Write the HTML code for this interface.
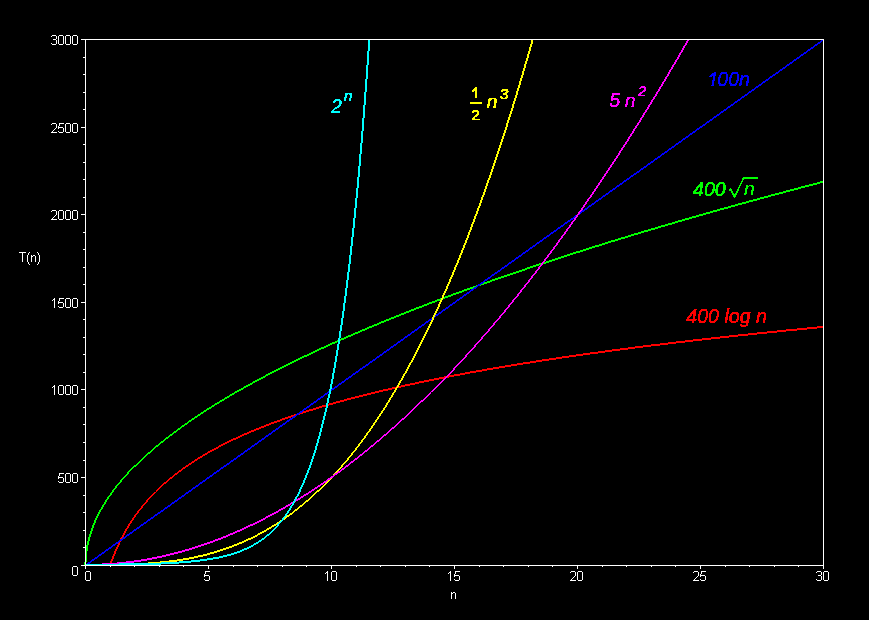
<!DOCTYPE html>
<html><head><meta charset="utf-8"><title>Growth of functions</title>
<style>
html,body{margin:0;padding:0;background:#000;}
body{width:869px;height:620px;overflow:hidden;}
svg{display:block;}
text{font-family:"Liberation Sans",sans-serif;}
</style></head><body>
<svg width="869" height="620" viewBox="0 0 869 620">
<defs>
<filter id="th" x="0" y="0" width="869" height="620" filterUnits="userSpaceOnUse" color-interpolation-filters="sRGB"><feComponentTransfer><feFuncA type="discrete" tableValues="0 1"/></feComponentTransfer></filter>
</defs>
<rect x="0" y="0" width="869" height="620" fill="#000"/>

<g shape-rendering="crispEdges">
<path fill="#ff0000" d="M817 326h7v1h-7zM807 327h17v1h-17zM797 328h20v1h-20zM786 329h21v1h-21zM777 330h20v1h-20zM767 331h19v1h-19zM757 332h20v1h-20zM748 333h19v1h-19zM738 334h19v1h-19zM729 335h19v1h-19zM720 336h18v1h-18zM711 337h18v1h-18zM702 338h18v1h-18zM693 339h18v1h-18zM685 340h17v1h-17zM676 341h17v1h-17zM668 342h17v1h-17zM660 343h16v1h-16zM651 344h17v1h-17zM643 345h17v1h-17zM635 346h16v1h-16zM628 347h15v1h-15zM620 348h15v1h-15zM612 349h16v1h-16zM605 350h15v1h-15zM598 351h14v1h-14zM590 352h15v1h-15zM583 353h15v1h-15zM576 354h14v1h-14zM569 355h14v1h-14zM562 356h14v1h-14zM556 357h13v1h-13zM549 358h13v1h-13zM542 359h14v1h-14zM536 360h13v1h-13zM530 361h12v1h-12zM523 362h13v1h-13zM517 363h13v1h-13zM511 364h12v1h-12zM505 365h12v1h-12zM499 366h12v1h-12zM493 367h12v1h-12zM487 368h12v1h-12zM482 369h11v1h-11zM476 370h11v1h-11zM470 371h12v1h-12zM465 372h11v1h-11zM460 373h10v1h-10zM454 374h11v1h-11zM449 375h11v1h-11zM444 376h2v1h-2zM448 376h6v1h-6zM439 377h6v1h-6zM447 377h2v1h-2zM434 378h10v1h-10zM429 379h10v1h-10zM424 380h10v1h-10zM419 381h10v1h-10zM415 382h9v1h-9zM410 383h9v1h-9zM405 384h10v1h-10zM401 385h9v1h-9zM396 386h1v1h-1zM399 386h6v1h-6zM392 387h4v1h-4zM398 387h3v1h-3zM388 388h7v1h-7zM383 389h9v1h-9zM379 390h9v1h-9zM375 391h8v1h-8zM371 392h8v1h-8zM367 393h8v1h-8zM363 394h8v1h-8zM359 395h8v1h-8zM355 396h8v1h-8zM351 397h8v1h-8zM347 398h8v1h-8zM344 399h7v1h-7zM340 400h7v1h-7zM336 401h8v1h-8zM333 402h7v1h-7zM329 403h7v1h-7zM328 404h5v1h-5zM322 405h4v1h-4zM328 405h1v1h-1zM319 406h7v1h-7zM316 407h6v1h-6zM313 408h6v1h-6zM309 409h7v1h-7zM306 410h7v1h-7zM303 411h6v1h-6zM302 412h4v1h-4zM300 413h3v1h-3zM294 414h2v1h-2zM299 414h1v1h-1zM291 415h4v1h-4zM288 416h5v1h-5zM285 417h6v1h-6zM282 418h6v1h-6zM280 419h5v1h-5zM277 420h5v1h-5zM274 421h6v1h-6zM271 422h6v1h-6zM269 423h5v1h-5zM266 424h5v1h-5zM264 425h5v1h-5zM261 426h5v1h-5zM259 427h5v1h-5zM256 428h5v1h-5zM254 429h5v1h-5zM251 430h5v1h-5zM249 431h5v1h-5zM247 432h4v1h-4zM244 433h5v1h-5zM242 434h5v1h-5zM240 435h4v1h-4zM238 436h4v1h-4zM236 437h4v1h-4zM233 438h5v1h-5zM231 439h5v1h-5zM229 440h4v1h-4zM227 441h4v1h-4zM225 442h4v1h-4zM223 443h4v1h-4zM221 444h4v1h-4zM219 445h4v1h-4zM218 446h3v1h-3zM216 447h3v1h-3zM214 448h4v1h-4zM212 449h4v1h-4zM210 450h4v1h-4zM208 451h4v1h-4zM207 452h3v1h-3zM205 453h3v1h-3zM203 454h4v1h-4zM202 455h3v1h-3zM200 456h3v1h-3zM198 457h4v1h-4zM197 458h3v1h-3zM195 459h3v1h-3zM194 460h3v1h-3zM192 461h3v1h-3zM191 462h3v1h-3zM189 463h3v1h-3zM188 464h3v1h-3zM186 465h3v1h-3zM185 466h3v1h-3zM183 467h3v1h-3zM182 468h3v1h-3zM181 469h2v1h-2zM179 470h3v1h-3zM178 471h3v1h-3zM177 472h2v1h-2zM175 473h3v1h-3zM174 474h3v1h-3zM173 475h2v1h-2zM172 476h2v1h-2zM170 477h3v1h-3zM169 478h3v1h-3zM168 479h2v1h-2zM167 480h2v1h-2zM166 481h2v1h-2zM164 482h3v1h-3zM163 483h3v1h-3zM162 484h2v1h-2zM161 485h2v1h-2zM160 486h2v1h-2zM159 487h2v1h-2zM158 488h2v1h-2zM157 489h2v1h-2zM156 490h2v1h-2zM156 491h1v1h-1zM154 492h2v1h-2zM153 493h2v1h-2zM152 494h2v1h-2zM151 495h2v1h-2zM150 496h2v1h-2zM149 497h2v1h-2zM148 498h2v1h-2zM147 499h2v1h-2zM146 500h2v2h-2zM145 502h2v1h-2zM144 503h2v1h-2zM143 504h2v1h-2zM142 505h2v1h-2zM141 506h2v2h-2zM140 508h2v1h-2zM139 509h2v1h-2zM138 510h2v1h-2zM137 511h2v2h-2zM136 513h2v1h-2zM135 514h2v1h-2zM134 515h2v2h-2zM133 517h2v1h-2zM132 518h2v2h-2zM131 520h2v1h-2zM130 521h2v2h-2zM129 523h2v1h-2zM128 524h2v2h-2zM127 526h2v2h-2zM126 528h2v1h-2zM125 529h2v2h-2zM124 531h2v2h-2zM123 533h2v2h-2zM122 535h2v2h-2zM121 537h2v1h-2zM120 538h2v1h-2zM120 541h1v1h-1zM119 542h1v1h-1zM118 543h2v2h-2zM117 545h2v2h-2zM116 547h2v2h-2zM115 549h2v2h-2zM114 551h2v3h-2zM113 554h2v2h-2zM112 556h2v3h-2zM111 559h2v2h-2zM110 561h2v2h-2z"/>
<path fill="#00ff00" d="M820 181h4v1h-4zM817 182h7v1h-7zM813 183h7v1h-7zM809 184h8v1h-8zM805 185h8v1h-8zM801 186h8v1h-8zM798 187h7v1h-7zM794 188h7v1h-7zM790 189h8v1h-8zM786 190h8v1h-8zM783 191h7v1h-7zM779 192h7v1h-7zM775 193h8v1h-8zM771 194h8v1h-8zM768 195h7v1h-7zM764 196h7v1h-7zM760 197h8v1h-8zM757 198h7v1h-7zM753 199h7v1h-7zM749 200h8v1h-8zM746 201h7v1h-7zM742 202h7v1h-7zM738 203h8v1h-8zM735 204h7v1h-7zM731 205h7v1h-7zM728 206h7v1h-7zM724 207h7v1h-7zM720 208h8v1h-8zM717 209h7v1h-7zM713 210h7v1h-7zM710 211h7v1h-7zM706 212h7v1h-7zM703 213h7v1h-7zM699 214h7v1h-7zM696 215h7v1h-7zM692 216h7v1h-7zM689 217h7v1h-7zM685 218h7v1h-7zM682 219h7v1h-7zM678 220h7v1h-7zM675 221h7v1h-7zM672 222h6v1h-6zM668 223h7v1h-7zM665 224h7v1h-7zM661 225h7v1h-7zM658 226h7v1h-7zM655 227h6v1h-6zM651 228h7v1h-7zM648 229h7v1h-7zM644 230h7v1h-7zM641 231h7v1h-7zM638 232h6v1h-6zM634 233h7v1h-7zM631 234h7v1h-7zM628 235h6v1h-6zM625 236h6v1h-6zM621 237h7v1h-7zM618 238h7v1h-7zM615 239h6v1h-6zM611 240h7v1h-7zM608 241h7v1h-7zM605 242h6v1h-6zM602 243h6v1h-6zM599 244h6v1h-6zM595 245h7v1h-7zM592 246h7v1h-7zM589 247h6v1h-6zM586 248h6v1h-6zM583 249h6v1h-6zM580 250h6v1h-6zM576 251h7v1h-7zM573 252h7v1h-7zM570 253h6v1h-6zM567 254h6v1h-6zM564 255h6v1h-6zM561 256h6v1h-6zM558 257h6v1h-6zM555 258h6v1h-6zM552 259h6v1h-6zM549 260h6v1h-6zM546 261h6v1h-6zM544 262h5v1h-5zM539 263h2v1h-2zM543 263h3v1h-3zM536 264h5v1h-5zM533 265h6v1h-6zM530 266h6v1h-6zM527 267h6v1h-6zM525 268h5v1h-5zM522 269h5v1h-5zM519 270h6v1h-6zM516 271h6v1h-6zM513 272h6v1h-6zM510 273h6v1h-6zM507 274h6v1h-6zM504 275h6v1h-6zM501 276h6v1h-6zM498 277h6v1h-6zM495 278h6v1h-6zM492 279h6v1h-6zM490 280h5v1h-5zM487 281h5v1h-5zM484 282h6v1h-6zM483 283h4v1h-4zM481 284h3v1h-3zM476 285h1v1h-1zM480 285h1v1h-1zM473 286h3v1h-3zM470 287h4v1h-4zM467 288h6v1h-6zM464 289h6v1h-6zM462 290h5v1h-5zM459 291h5v1h-5zM456 292h6v1h-6zM453 293h6v1h-6zM451 294h5v1h-5zM448 295h5v1h-5zM445 296h6v1h-6zM444 297h4v1h-4zM440 298h1v1h-1zM443 298h2v1h-2zM437 299h4v1h-4zM435 300h5v1h-5zM432 301h5v1h-5zM429 302h6v1h-6zM427 303h5v1h-5zM424 304h5v1h-5zM422 305h5v1h-5zM419 306h5v1h-5zM416 307h6v1h-6zM414 308h5v1h-5zM411 309h5v1h-5zM409 310h5v1h-5zM406 311h5v1h-5zM404 312h5v1h-5zM401 313h5v1h-5zM399 314h5v1h-5zM396 315h5v1h-5zM394 316h5v1h-5zM391 317h5v1h-5zM389 318h5v1h-5zM386 319h5v1h-5zM384 320h5v1h-5zM381 321h5v1h-5zM379 322h5v1h-5zM377 323h4v1h-4zM374 324h5v1h-5zM372 325h5v1h-5zM369 326h5v1h-5zM367 327h5v1h-5zM365 328h4v1h-4zM362 329h5v1h-5zM360 330h5v1h-5zM358 331h4v1h-4zM355 332h5v1h-5zM353 333h5v1h-5zM351 334h4v1h-4zM348 335h5v1h-5zM346 336h5v1h-5zM344 337h4v1h-4zM341 338h5v1h-5zM340 339h4v1h-4zM337 340h1v1h-1zM340 340h1v1h-1zM335 341h3v1h-3zM332 342h5v1h-5zM330 343h5v1h-5zM328 344h4v1h-4zM326 345h4v1h-4zM324 346h4v1h-4zM321 347h5v1h-5zM319 348h5v1h-5zM317 349h4v1h-4zM315 350h4v1h-4zM313 351h4v1h-4zM311 352h4v1h-4zM309 353h4v1h-4zM307 354h4v1h-4zM304 355h5v1h-5zM302 356h5v1h-5zM300 357h4v1h-4zM298 358h4v1h-4zM296 359h4v1h-4zM294 360h4v1h-4zM292 361h4v1h-4zM290 362h4v1h-4zM288 363h4v1h-4zM286 364h4v1h-4zM284 365h4v1h-4zM282 366h4v1h-4zM280 367h4v1h-4zM278 368h4v1h-4zM276 369h4v1h-4zM274 370h4v1h-4zM272 371h4v1h-4zM270 372h4v1h-4zM268 373h4v1h-4zM266 374h4v1h-4zM265 375h3v1h-3zM263 376h3v1h-3zM261 377h4v1h-4zM259 378h4v1h-4zM257 379h4v1h-4zM255 380h4v1h-4zM253 381h4v1h-4zM252 382h3v1h-3zM250 383h3v1h-3zM248 384h4v1h-4zM246 385h4v1h-4zM244 386h4v1h-4zM243 387h3v1h-3zM241 388h3v1h-3zM239 389h4v1h-4zM237 390h4v1h-4zM235 391h4v1h-4zM234 392h3v1h-3zM232 393h3v1h-3zM230 394h4v1h-4zM229 395h3v1h-3zM227 396h3v1h-3zM225 397h4v1h-4zM224 398h3v1h-3zM222 399h3v1h-3zM220 400h4v1h-4zM219 401h3v1h-3zM217 402h3v1h-3zM215 403h4v1h-4zM214 404h3v1h-3zM212 405h3v1h-3zM211 406h3v1h-3zM209 407h3v1h-3zM207 408h4v1h-4zM206 409h3v1h-3zM204 410h3v1h-3zM203 411h3v1h-3zM201 412h3v1h-3zM200 413h3v1h-3zM198 414h3v1h-3zM197 415h3v1h-3zM195 416h3v1h-3zM194 417h3v1h-3zM192 418h3v1h-3zM191 419h3v1h-3zM189 420h3v1h-3zM188 421h3v1h-3zM187 422h2v1h-2zM185 423h3v1h-3zM184 424h3v1h-3zM182 425h3v1h-3zM181 426h3v1h-3zM180 427h2v1h-2zM178 428h3v1h-3zM177 429h3v1h-3zM176 430h2v1h-2zM174 431h3v1h-3zM173 432h3v1h-3zM172 433h2v1h-2zM170 434h3v1h-3zM169 435h3v1h-3zM168 436h2v1h-2zM166 437h3v1h-3zM165 438h3v1h-3zM164 439h2v1h-2zM163 440h2v1h-2zM161 441h3v1h-3zM160 442h3v1h-3zM159 443h2v1h-2zM158 444h2v1h-2zM156 445h3v1h-3zM155 446h3v1h-3zM154 447h2v1h-2zM153 448h2v1h-2zM152 449h2v1h-2zM151 450h2v1h-2zM150 451h2v1h-2zM148 452h3v1h-3zM147 453h3v1h-3zM146 454h2v1h-2zM145 455h2v1h-2zM144 456h2v1h-2zM143 457h2v1h-2zM142 458h2v1h-2zM141 459h2v1h-2zM140 460h2v1h-2zM139 461h2v1h-2zM138 462h2v1h-2zM137 463h2v1h-2zM136 464h2v1h-2zM134 465h3v1h-3zM133 466h3v1h-3zM132 467h2v1h-2zM131 468h2v1h-2zM130 469h2v1h-2zM129 470h2v1h-2zM128 471h2v1h-2zM127 472h2v2h-2zM126 474h2v1h-2zM125 475h2v1h-2zM124 476h2v1h-2zM123 477h2v1h-2zM122 478h2v1h-2zM121 479h2v1h-2zM120 480h2v2h-2zM119 482h2v1h-2zM118 483h2v1h-2zM117 484h2v1h-2zM116 485h2v1h-2zM115 486h2v2h-2zM114 488h2v1h-2zM113 489h2v1h-2zM112 490h2v2h-2zM111 492h2v1h-2zM110 493h2v2h-2zM109 495h2v1h-2zM108 496h2v1h-2zM107 497h2v2h-2zM106 499h2v1h-2zM105 500h2v2h-2zM104 502h2v2h-2zM103 504h2v1h-2zM102 505h2v2h-2zM101 507h2v2h-2zM100 509h2v1h-2zM99 510h2v2h-2zM98 512h2v2h-2zM97 514h2v2h-2zM96 516h2v2h-2zM95 518h2v2h-2zM94 520h2v3h-2zM93 523h2v2h-2zM92 525h2v3h-2zM91 528h2v3h-2zM90 531h2v3h-2zM89 534h2v3h-2zM88 537h2v4h-2zM87 541h2v4h-2zM86 545h2v6h-2zM85 551h2v11h-2zM84 562h2v2h-2zM84 564h1v1h-1z"/>
<path fill="#0000ff" d="M822 39h2v1h-2zM821 40h3v1h-3zM820 41h2v1h-2zM818 42h3v1h-3zM817 43h3v1h-3zM815 44h3v1h-3zM814 45h3v1h-3zM813 46h2v1h-2zM811 47h3v1h-3zM810 48h3v1h-3zM808 49h3v1h-3zM807 50h3v1h-3zM806 51h2v1h-2zM804 52h3v1h-3zM803 53h3v1h-3zM801 54h3v1h-3zM800 55h3v1h-3zM799 56h2v1h-2zM797 57h3v1h-3zM796 58h3v1h-3zM794 59h3v1h-3zM793 60h3v1h-3zM792 61h2v1h-2zM790 62h3v1h-3zM789 63h3v1h-3zM787 64h3v1h-3zM786 65h3v1h-3zM785 66h2v1h-2zM783 67h3v1h-3zM782 68h3v1h-3zM780 69h3v1h-3zM779 70h3v1h-3zM778 71h2v1h-2zM776 72h3v1h-3zM775 73h3v1h-3zM773 74h3v1h-3zM772 75h3v1h-3zM770 76h3v1h-3zM769 77h3v1h-3zM768 78h2v1h-2zM766 79h3v1h-3zM765 80h3v1h-3zM763 81h3v1h-3zM762 82h3v1h-3zM761 83h2v1h-2zM759 84h3v1h-3zM758 85h3v1h-3zM756 86h3v1h-3zM755 87h3v1h-3zM754 88h2v1h-2zM752 89h3v1h-3zM751 90h3v1h-3zM749 91h3v1h-3zM748 92h3v1h-3zM747 93h2v1h-2zM745 94h3v1h-3zM744 95h3v1h-3zM742 96h3v1h-3zM741 97h3v1h-3zM740 98h2v1h-2zM738 99h3v1h-3zM737 100h3v1h-3zM735 101h3v1h-3zM734 102h3v1h-3zM733 103h2v1h-2zM731 104h3v1h-3zM730 105h3v1h-3zM728 106h3v1h-3zM727 107h3v1h-3zM726 108h2v1h-2zM724 109h3v1h-3zM723 110h3v1h-3zM721 111h3v1h-3zM720 112h3v1h-3zM719 113h2v1h-2zM717 114h3v1h-3zM716 115h3v1h-3zM714 116h3v1h-3zM713 117h3v1h-3zM712 118h2v1h-2zM710 119h3v1h-3zM709 120h3v1h-3zM707 121h3v1h-3zM706 122h3v1h-3zM705 123h2v1h-2zM703 124h3v1h-3zM702 125h3v1h-3zM700 126h3v1h-3zM699 127h3v1h-3zM697 128h3v1h-3zM696 129h3v1h-3zM695 130h2v1h-2zM693 131h3v1h-3zM692 132h3v1h-3zM690 133h3v1h-3zM689 134h3v1h-3zM688 135h2v1h-2zM686 136h3v1h-3zM685 137h3v1h-3zM683 138h3v1h-3zM682 139h3v1h-3zM681 140h2v1h-2zM679 141h3v1h-3zM678 142h3v1h-3zM676 143h3v1h-3zM675 144h3v1h-3zM674 145h2v1h-2zM672 146h3v1h-3zM671 147h3v1h-3zM669 148h3v1h-3zM668 149h3v1h-3zM667 150h2v1h-2zM665 151h3v1h-3zM664 152h3v1h-3zM662 153h3v1h-3zM661 154h3v1h-3zM660 155h2v1h-2zM658 156h3v1h-3zM657 157h3v1h-3zM655 158h3v1h-3zM654 159h3v1h-3zM653 160h2v1h-2zM651 161h3v1h-3zM650 162h3v1h-3zM648 163h3v1h-3zM647 164h3v1h-3zM646 165h2v1h-2zM644 166h3v1h-3zM643 167h3v1h-3zM641 168h3v1h-3zM640 169h3v1h-3zM639 170h2v1h-2zM637 171h3v1h-3zM636 172h3v1h-3zM634 173h3v1h-3zM633 174h3v1h-3zM631 175h3v1h-3zM630 176h3v1h-3zM629 177h2v1h-2zM627 178h3v1h-3zM626 179h3v1h-3zM624 180h3v1h-3zM623 181h3v1h-3zM622 182h2v1h-2zM620 183h3v1h-3zM619 184h3v1h-3zM617 185h3v1h-3zM616 186h3v1h-3zM615 187h2v1h-2zM613 188h3v1h-3zM612 189h3v1h-3zM610 190h3v1h-3zM609 191h3v1h-3zM608 192h2v1h-2zM606 193h3v1h-3zM605 194h3v1h-3zM603 195h3v1h-3zM602 196h3v1h-3zM601 197h2v1h-2zM599 198h3v1h-3zM598 199h3v1h-3zM596 200h3v1h-3zM595 201h3v1h-3zM594 202h2v1h-2zM592 203h3v1h-3zM591 204h3v1h-3zM589 205h3v1h-3zM588 206h3v1h-3zM587 207h2v1h-2zM585 208h3v1h-3zM584 209h3v1h-3zM582 210h3v1h-3zM581 211h3v1h-3zM580 212h2v1h-2zM580 213h1v1h-1zM579 214h1v1h-1zM575 215h1v1h-1zM574 216h2v1h-2zM573 217h2v1h-2zM571 218h3v1h-3zM570 219h3v1h-3zM568 220h3v1h-3zM567 221h3v1h-3zM565 222h3v1h-3zM564 223h3v1h-3zM563 224h2v1h-2zM561 225h3v1h-3zM560 226h3v1h-3zM558 227h3v1h-3zM557 228h3v1h-3zM556 229h2v1h-2zM554 230h3v1h-3zM553 231h3v1h-3zM551 232h3v1h-3zM550 233h3v1h-3zM549 234h2v1h-2zM547 235h3v1h-3zM546 236h3v1h-3zM544 237h3v1h-3zM543 238h3v1h-3zM542 239h2v1h-2zM540 240h3v1h-3zM539 241h3v1h-3zM537 242h3v1h-3zM536 243h3v1h-3zM535 244h2v1h-2zM533 245h3v1h-3zM532 246h3v1h-3zM530 247h3v1h-3zM529 248h3v1h-3zM528 249h2v1h-2zM526 250h3v1h-3zM525 251h3v1h-3zM523 252h3v1h-3zM522 253h3v1h-3zM521 254h2v1h-2zM519 255h3v1h-3zM518 256h3v1h-3zM516 257h3v1h-3zM515 258h3v1h-3zM514 259h2v1h-2zM512 260h3v1h-3zM511 261h3v1h-3zM509 262h3v1h-3zM508 263h3v1h-3zM507 264h2v1h-2zM505 265h3v1h-3zM504 266h3v1h-3zM502 267h3v1h-3zM501 268h3v1h-3zM500 269h2v1h-2zM498 270h3v1h-3zM497 271h3v1h-3zM495 272h3v1h-3zM494 273h3v1h-3zM492 274h3v1h-3zM491 275h3v1h-3zM490 276h2v1h-2zM488 277h3v1h-3zM487 278h3v1h-3zM485 279h3v1h-3zM484 280h3v1h-3zM483 281h2v1h-2zM481 282h3v1h-3zM480 283h3v1h-3zM478 284h3v1h-3zM477 285h3v1h-3zM476 286h2v1h-2zM474 287h3v1h-3zM473 288h3v1h-3zM471 289h3v1h-3zM470 290h3v1h-3zM469 291h2v1h-2zM467 292h3v1h-3zM466 293h3v1h-3zM464 294h3v1h-3zM463 295h3v1h-3zM462 296h2v1h-2zM460 297h3v1h-3zM459 298h3v1h-3zM457 299h3v1h-3zM456 300h3v1h-3zM455 301h2v1h-2zM453 302h3v1h-3zM452 303h3v1h-3zM450 304h3v1h-3zM449 305h3v1h-3zM448 306h2v1h-2zM446 307h3v1h-3zM445 308h3v1h-3zM443 309h3v1h-3zM442 310h3v1h-3zM441 311h2v1h-2zM439 312h3v1h-3zM438 313h3v1h-3zM436 314h3v1h-3zM435 315h3v1h-3zM435 316h1v1h-1zM434 317h1v1h-1zM431 318h1v1h-1zM429 319h3v1h-3zM428 320h3v1h-3zM426 321h3v1h-3zM425 322h3v1h-3zM424 323h2v1h-2zM422 324h3v1h-3zM421 325h3v1h-3zM419 326h3v1h-3zM418 327h3v1h-3zM417 328h2v1h-2zM415 329h3v1h-3zM414 330h3v1h-3zM412 331h3v1h-3zM411 332h3v1h-3zM410 333h2v1h-2zM408 334h3v1h-3zM407 335h3v1h-3zM405 336h3v1h-3zM404 337h3v1h-3zM403 338h2v1h-2zM401 339h3v1h-3zM400 340h3v1h-3zM398 341h3v1h-3zM397 342h3v1h-3zM396 343h2v1h-2zM394 344h3v1h-3zM393 345h3v1h-3zM391 346h3v1h-3zM390 347h3v1h-3zM389 348h2v1h-2zM387 349h3v1h-3zM386 350h3v1h-3zM384 351h3v1h-3zM383 352h3v1h-3zM382 353h2v1h-2zM380 354h3v1h-3zM379 355h3v1h-3zM377 356h3v1h-3zM376 357h3v1h-3zM375 358h2v1h-2zM373 359h3v1h-3zM372 360h3v1h-3zM370 361h3v1h-3zM369 362h3v1h-3zM368 363h2v1h-2zM366 364h3v1h-3zM365 365h3v1h-3zM363 366h3v1h-3zM362 367h3v1h-3zM360 368h3v1h-3zM359 369h3v1h-3zM358 370h2v1h-2zM356 371h3v1h-3zM355 372h3v1h-3zM353 373h3v1h-3zM352 374h3v1h-3zM351 375h2v1h-2zM349 376h3v1h-3zM348 377h3v1h-3zM346 378h3v1h-3zM345 379h3v1h-3zM344 380h2v1h-2zM342 381h3v1h-3zM341 382h3v1h-3zM339 383h3v1h-3zM338 384h3v1h-3zM337 385h2v1h-2zM335 386h3v1h-3zM334 387h3v1h-3zM332 388h3v1h-3zM331 389h3v1h-3zM331 390h1v1h-1zM328 391h1v1h-1zM327 392h2v1h-2zM325 393h3v1h-3zM324 394h3v1h-3zM323 395h2v1h-2zM321 396h3v1h-3zM320 397h3v1h-3zM318 398h3v1h-3zM317 399h3v1h-3zM316 400h2v1h-2zM314 401h3v1h-3zM313 402h3v1h-3zM311 403h3v1h-3zM310 404h3v1h-3zM309 405h2v1h-2zM307 406h3v1h-3zM306 407h3v1h-3zM304 408h3v1h-3zM303 409h3v1h-3zM302 410h2v1h-2zM300 411h3v1h-3zM299 412h3v1h-3zM297 413h3v1h-3zM296 414h3v1h-3zM295 415h2v1h-2zM293 416h3v1h-3zM292 417h3v1h-3zM290 418h3v1h-3zM289 419h3v1h-3zM287 420h3v1h-3zM286 421h3v1h-3zM285 422h2v1h-2zM283 423h3v1h-3zM282 424h3v1h-3zM280 425h3v1h-3zM279 426h3v1h-3zM278 427h2v1h-2zM276 428h3v1h-3zM275 429h3v1h-3zM273 430h3v1h-3zM272 431h3v1h-3zM271 432h2v1h-2zM269 433h3v1h-3zM268 434h3v1h-3zM266 435h3v1h-3zM265 436h3v1h-3zM264 437h2v1h-2zM262 438h3v1h-3zM261 439h3v1h-3zM259 440h3v1h-3zM258 441h3v1h-3zM257 442h2v1h-2zM255 443h3v1h-3zM254 444h3v1h-3zM252 445h3v1h-3zM251 446h3v1h-3zM250 447h2v1h-2zM248 448h3v1h-3zM247 449h3v1h-3zM245 450h3v1h-3zM244 451h3v1h-3zM243 452h2v1h-2zM241 453h3v1h-3zM240 454h3v1h-3zM238 455h3v1h-3zM237 456h3v1h-3zM236 457h2v1h-2zM234 458h3v1h-3zM233 459h3v1h-3zM231 460h3v1h-3zM230 461h3v1h-3zM229 462h2v1h-2zM227 463h3v1h-3zM226 464h3v1h-3zM224 465h3v1h-3zM223 466h3v1h-3zM221 467h3v1h-3zM220 468h3v1h-3zM219 469h2v1h-2zM217 470h3v1h-3zM216 471h3v1h-3zM214 472h3v1h-3zM213 473h3v1h-3zM212 474h2v1h-2zM210 475h3v1h-3zM209 476h3v1h-3zM207 477h3v1h-3zM206 478h3v1h-3zM205 479h2v1h-2zM203 480h3v1h-3zM202 481h3v1h-3zM200 482h3v1h-3zM199 483h3v1h-3zM198 484h2v1h-2zM196 485h3v1h-3zM195 486h3v1h-3zM193 487h3v1h-3zM192 488h3v1h-3zM191 489h2v1h-2zM189 490h3v1h-3zM188 491h3v1h-3zM186 492h3v1h-3zM185 493h3v1h-3zM184 494h2v1h-2zM182 495h3v1h-3zM181 496h3v1h-3zM179 497h3v1h-3zM178 498h3v1h-3zM177 499h2v1h-2zM175 500h3v1h-3zM174 501h3v1h-3zM172 502h3v1h-3zM171 503h3v1h-3zM170 504h2v1h-2zM168 505h3v1h-3zM167 506h3v1h-3zM165 507h3v1h-3zM164 508h3v1h-3zM163 509h2v1h-2zM161 510h3v1h-3zM160 511h3v1h-3zM158 512h3v1h-3zM157 513h3v1h-3zM155 514h3v1h-3zM154 515h3v1h-3zM153 516h2v1h-2zM151 517h3v1h-3zM150 518h3v1h-3zM148 519h3v1h-3zM147 520h3v1h-3zM146 521h2v1h-2zM144 522h3v1h-3zM143 523h3v1h-3zM141 524h3v1h-3zM140 525h3v1h-3zM139 526h2v1h-2zM137 527h3v1h-3zM136 528h3v1h-3zM134 529h3v1h-3zM133 530h3v1h-3zM132 531h2v1h-2zM130 532h3v1h-3zM129 533h3v1h-3zM127 534h3v1h-3zM126 535h3v1h-3zM125 536h2v1h-2zM123 537h3v1h-3zM122 538h3v1h-3zM120 539h3v1h-3zM119 540h3v1h-3zM118 541h2v1h-2zM116 542h3v1h-3zM115 543h3v1h-3zM113 544h3v1h-3zM112 545h3v1h-3zM111 546h2v1h-2zM109 547h3v1h-3zM108 548h3v1h-3zM106 549h3v1h-3zM105 550h3v1h-3zM104 551h2v1h-2zM102 552h3v1h-3zM101 553h3v1h-3zM99 554h3v1h-3zM98 555h3v1h-3zM97 556h2v1h-2zM95 557h3v1h-3zM94 558h3v1h-3zM92 559h3v1h-3zM91 560h3v1h-3zM90 561h2v1h-2zM88 562h3v1h-3zM87 563h3v1h-3z"/>
<path fill="#ffff00" d="M531 40h2v4h-2zM530 44h2v3h-2zM529 47h2v4h-2zM528 51h2v3h-2zM527 54h2v4h-2zM526 58h2v3h-2zM525 61h2v3h-2zM524 64h2v4h-2zM523 68h2v3h-2zM522 71h2v4h-2zM521 75h2v3h-2zM520 78h2v3h-2zM519 81h2v4h-2zM518 85h2v3h-2zM517 88h2v3h-2zM516 91h2v4h-2zM515 95h2v3h-2zM514 98h2v3h-2zM513 101h2v3h-2zM512 104h2v4h-2zM511 108h2v3h-2zM510 111h2v3h-2zM509 114h2v3h-2zM508 117h2v3h-2zM507 120h2v3h-2zM506 123h2v4h-2zM505 127h2v3h-2zM504 130h2v3h-2zM503 133h2v3h-2zM502 136h2v3h-2zM501 139h2v3h-2zM500 142h2v3h-2zM499 145h2v3h-2zM498 148h2v3h-2zM497 151h2v3h-2zM496 154h2v3h-2zM495 157h2v3h-2zM494 160h2v3h-2zM493 163h2v3h-2zM492 166h2v3h-2zM491 169h2v3h-2zM490 172h2v3h-2zM489 175h2v3h-2zM488 178h2v2h-2zM487 180h2v3h-2zM486 183h2v3h-2zM485 186h2v3h-2zM484 189h2v3h-2zM483 192h2v3h-2zM482 195h2v2h-2zM481 197h2v3h-2zM480 200h2v3h-2zM479 203h2v3h-2zM478 206h2v2h-2zM477 208h2v3h-2zM476 211h2v3h-2zM475 214h2v2h-2zM474 216h2v3h-2zM473 219h2v3h-2zM472 222h2v2h-2zM471 224h2v3h-2zM470 227h2v3h-2zM469 230h2v2h-2zM468 232h2v3h-2zM467 235h2v3h-2zM466 238h2v2h-2zM465 240h2v3h-2zM464 243h2v2h-2zM463 245h2v3h-2zM462 248h2v2h-2zM461 250h2v3h-2zM460 253h2v2h-2zM459 255h2v3h-2zM458 258h2v2h-2zM457 260h2v3h-2zM456 263h2v2h-2zM455 265h2v2h-2zM454 267h2v3h-2zM453 270h2v2h-2zM452 272h2v3h-2zM451 275h2v2h-2zM450 277h2v2h-2zM449 279h2v3h-2zM448 282h2v2h-2zM447 284h2v2h-2zM446 286h2v3h-2zM445 289h2v2h-2zM444 291h2v2h-2zM443 293h2v2h-2zM442 295h2v3h-2zM441 298h2v2h-2zM440 300h2v2h-2zM439 302h2v2h-2zM438 304h2v3h-2zM437 307h2v2h-2zM436 309h2v2h-2zM435 311h2v2h-2zM434 313h2v2h-2zM433 315h2v2h-2zM432 317h2v3h-2zM431 320h2v2h-2zM430 322h2v2h-2zM429 324h2v2h-2zM428 326h2v2h-2zM427 328h2v2h-2zM426 330h2v2h-2zM425 332h2v2h-2zM424 334h2v2h-2zM423 336h2v2h-2zM422 338h2v2h-2zM421 340h2v2h-2zM420 342h2v2h-2zM419 344h2v2h-2zM418 346h2v2h-2zM417 348h2v2h-2zM416 350h2v2h-2zM415 352h2v2h-2zM414 354h2v2h-2zM413 356h2v2h-2zM412 358h2v2h-2zM411 360h2v2h-2zM410 362h2v1h-2zM409 363h2v2h-2zM408 365h2v2h-2zM407 367h2v2h-2zM406 369h2v2h-2zM405 371h2v2h-2zM404 373h2v1h-2zM403 374h2v2h-2zM402 376h2v2h-2zM401 378h2v2h-2zM400 380h2v1h-2zM399 381h2v2h-2zM398 383h2v2h-2zM397 385h2v2h-2zM396 387h2v1h-2zM395 388h2v2h-2zM394 390h2v2h-2zM393 392h2v1h-2zM392 393h2v2h-2zM391 395h2v2h-2zM390 397h2v1h-2zM389 398h2v2h-2zM388 400h2v2h-2zM387 402h2v1h-2zM386 403h2v2h-2zM385 405h2v2h-2zM384 407h2v1h-2zM383 408h2v2h-2zM382 410h2v1h-2zM381 411h2v2h-2zM380 413h2v1h-2zM379 414h2v2h-2zM378 416h2v1h-2zM377 417h2v2h-2zM376 419h2v1h-2zM375 420h2v2h-2zM374 422h2v1h-2zM373 423h2v2h-2zM372 425h2v1h-2zM371 426h2v2h-2zM370 428h2v1h-2zM369 429h2v2h-2zM368 431h2v1h-2zM367 432h2v1h-2zM366 433h2v2h-2zM365 435h2v1h-2zM364 436h2v2h-2zM363 438h2v1h-2zM362 439h2v1h-2zM361 440h2v2h-2zM360 442h2v1h-2zM359 443h2v1h-2zM358 444h2v2h-2zM357 446h2v1h-2zM356 447h2v1h-2zM355 448h2v2h-2zM354 450h2v1h-2zM353 451h2v1h-2zM352 452h2v1h-2zM351 453h2v2h-2zM350 455h2v1h-2zM349 456h2v1h-2zM348 457h2v1h-2zM347 458h2v2h-2zM346 460h2v1h-2zM345 461h2v1h-2zM344 462h2v1h-2zM343 463h2v1h-2zM342 464h2v1h-2zM341 465h2v2h-2zM340 467h2v1h-2zM339 468h2v1h-2zM338 469h2v1h-2zM337 470h2v1h-2zM336 471h2v1h-2zM335 472h2v1h-2zM334 473h1v1h-1zM333 474h1v1h-1zM331 478h1v1h-1zM330 479h1v1h-1zM328 480h2v1h-2zM327 481h2v1h-2zM326 482h2v1h-2zM325 483h2v1h-2zM324 484h2v1h-2zM323 485h2v1h-2zM322 486h2v1h-2zM321 487h2v1h-2zM320 488h2v1h-2zM319 489h2v1h-2zM317 490h3v1h-3zM316 491h3v1h-3zM315 492h2v1h-2zM314 493h2v1h-2zM313 494h2v1h-2zM312 495h2v1h-2zM311 496h2v1h-2zM310 497h2v1h-2zM309 498h2v1h-2zM308 499h2v1h-2zM306 500h3v1h-3zM305 501h3v1h-3zM304 502h2v1h-2zM303 503h2v1h-2zM302 504h2v1h-2zM300 505h3v1h-3zM299 506h3v1h-3zM298 507h2v1h-2zM297 508h2v1h-2zM295 509h3v1h-3zM294 510h3v1h-3zM293 511h2v1h-2zM292 512h2v1h-2zM290 513h3v1h-3zM289 514h3v1h-3zM287 515h3v1h-3zM286 516h3v1h-3zM285 517h2v1h-2zM284 518h2v1h-2zM284 519h1v1h-1zM280 520h1v1h-1zM279 521h1v1h-1zM277 522h2v1h-2zM276 523h2v1h-2zM274 524h3v1h-3zM272 525h4v1h-4zM271 526h3v1h-3zM269 527h3v1h-3zM267 528h4v1h-4zM266 529h3v1h-3zM264 530h3v1h-3zM262 531h4v1h-4zM260 532h4v1h-4zM258 533h4v1h-4zM257 534h3v1h-3zM255 535h3v1h-3zM253 536h4v1h-4zM251 537h4v1h-4zM248 538h5v1h-5zM246 539h5v1h-5zM244 540h4v1h-4zM242 541h4v1h-4zM239 542h5v1h-5zM237 543h5v1h-5zM234 544h5v1h-5zM232 545h5v1h-5zM229 546h5v1h-5zM226 547h6v1h-6zM223 548h6v1h-6zM220 549h6v1h-6zM217 550h6v1h-6zM214 551h6v1h-6zM210 552h7v1h-7zM207 553h7v1h-7zM203 554h7v1h-7zM198 555h9v1h-9zM194 556h9v1h-9zM189 557h9v1h-9zM183 558h11v1h-11zM177 559h12v1h-12zM169 560h14v1h-14zM160 561h17v1h-17zM148 562h13v1h-13zM119 565h9v1h-9z"/>
<path fill="#ff00ff" d="M687 40h2v1h-2zM686 41h2v2h-2zM685 43h2v2h-2zM684 45h2v1h-2zM683 46h2v2h-2zM682 48h2v2h-2zM681 50h2v2h-2zM680 52h2v1h-2zM679 53h2v2h-2zM678 55h2v2h-2zM677 57h2v2h-2zM676 59h2v1h-2zM675 60h2v2h-2zM674 62h2v2h-2zM673 64h2v1h-2zM672 65h2v2h-2zM671 67h2v2h-2zM670 69h2v1h-2zM669 70h2v2h-2zM668 72h2v2h-2zM667 74h2v2h-2zM666 76h2v1h-2zM665 77h2v2h-2zM664 79h2v2h-2zM663 81h2v1h-2zM662 82h2v2h-2zM661 84h2v2h-2zM660 86h2v1h-2zM659 87h2v2h-2zM658 89h2v2h-2zM657 91h2v1h-2zM656 92h2v2h-2zM655 94h2v2h-2zM654 96h2v1h-2zM653 97h2v2h-2zM652 99h2v1h-2zM651 100h2v2h-2zM650 102h2v2h-2zM649 104h2v1h-2zM648 105h2v2h-2zM647 107h2v2h-2zM646 109h2v1h-2zM645 110h2v2h-2zM644 112h2v1h-2zM643 113h2v2h-2zM642 115h2v2h-2zM641 117h2v1h-2zM640 118h2v2h-2zM639 120h2v2h-2zM638 122h2v1h-2zM637 123h2v2h-2zM636 125h2v1h-2zM635 126h2v2h-2zM634 128h2v1h-2zM633 129h2v2h-2zM632 131h2v2h-2zM631 133h2v1h-2zM630 134h2v2h-2zM629 136h2v1h-2zM628 137h2v2h-2zM627 139h2v2h-2zM626 141h2v1h-2zM625 142h2v2h-2zM624 144h2v1h-2zM623 145h2v2h-2zM622 147h2v1h-2zM621 148h2v2h-2zM620 150h2v1h-2zM619 151h2v2h-2zM618 153h2v2h-2zM617 155h2v1h-2zM616 156h2v2h-2zM615 158h2v1h-2zM614 159h2v2h-2zM613 161h2v1h-2zM612 162h2v2h-2zM611 164h2v1h-2zM610 165h2v2h-2zM609 167h2v1h-2zM608 168h2v2h-2zM607 170h2v1h-2zM606 171h2v2h-2zM605 173h2v1h-2zM604 174h2v2h-2zM603 176h2v1h-2zM602 177h2v2h-2zM601 179h2v1h-2zM600 180h2v2h-2zM599 182h2v1h-2zM598 183h2v2h-2zM597 185h2v1h-2zM596 186h2v2h-2zM595 188h2v1h-2zM594 189h2v2h-2zM593 191h2v1h-2zM592 192h2v2h-2zM591 194h2v1h-2zM590 195h2v2h-2zM589 197h2v1h-2zM588 198h2v1h-2zM587 199h2v2h-2zM586 201h2v1h-2zM585 202h2v2h-2zM584 204h2v1h-2zM583 205h2v2h-2zM582 207h2v1h-2zM581 208h2v2h-2zM580 210h2v1h-2zM579 211h2v1h-2zM578 212h2v2h-2zM577 214h2v1h-2zM576 215h2v2h-2zM575 217h2v1h-2zM574 218h2v2h-2zM573 220h2v1h-2zM572 221h2v1h-2zM571 222h2v2h-2zM570 224h2v1h-2zM569 225h2v2h-2zM568 227h2v1h-2zM567 228h2v1h-2zM566 229h2v2h-2zM565 231h2v1h-2zM564 232h2v2h-2zM563 234h2v1h-2zM562 235h2v1h-2zM561 236h2v2h-2zM560 238h2v1h-2zM559 239h2v1h-2zM558 240h2v2h-2zM557 242h2v1h-2zM556 243h2v2h-2zM555 245h2v1h-2zM554 246h2v1h-2zM553 247h2v2h-2zM552 249h2v1h-2zM551 250h2v1h-2zM550 251h2v2h-2zM549 253h2v1h-2zM548 254h2v1h-2zM547 255h2v2h-2zM546 257h2v1h-2zM545 258h2v1h-2zM544 259h2v2h-2zM543 261h2v1h-2zM542 262h2v1h-2zM541 263h2v2h-2zM540 265h2v1h-2zM539 266h2v1h-2zM538 267h2v2h-2zM537 269h2v1h-2zM536 270h2v1h-2zM535 271h2v2h-2zM534 273h2v1h-2zM533 274h2v1h-2zM532 275h2v1h-2zM531 276h2v2h-2zM530 278h2v1h-2zM529 279h2v1h-2zM528 280h2v2h-2zM527 282h2v1h-2zM526 283h2v1h-2zM525 284h2v1h-2zM524 285h2v2h-2zM523 287h2v1h-2zM522 288h2v1h-2zM521 289h2v1h-2zM520 290h2v2h-2zM519 292h2v1h-2zM518 293h2v1h-2zM517 294h2v2h-2zM516 296h2v1h-2zM515 297h2v1h-2zM514 298h2v1h-2zM513 299h2v1h-2zM512 300h2v2h-2zM511 302h2v1h-2zM510 303h2v1h-2zM509 304h2v1h-2zM508 305h2v2h-2zM507 307h2v1h-2zM506 308h2v1h-2zM505 309h2v1h-2zM504 310h2v2h-2zM503 312h2v1h-2zM502 313h2v1h-2zM501 314h2v1h-2zM500 315h2v1h-2zM499 316h2v2h-2zM498 318h2v1h-2zM497 319h2v1h-2zM496 320h2v1h-2zM495 321h2v1h-2zM494 322h2v1h-2zM493 323h2v2h-2zM492 325h2v1h-2zM491 326h2v1h-2zM490 327h2v1h-2zM489 328h2v1h-2zM488 329h2v2h-2zM487 331h2v1h-2zM486 332h2v1h-2zM485 333h2v1h-2zM484 334h2v1h-2zM483 335h2v1h-2zM482 336h2v1h-2zM481 337h2v2h-2zM480 339h2v1h-2zM479 340h2v1h-2zM478 341h2v1h-2zM477 342h2v1h-2zM476 343h2v1h-2zM475 344h2v1h-2zM474 345h2v2h-2zM473 347h2v1h-2zM472 348h2v1h-2zM471 349h2v1h-2zM470 350h2v1h-2zM469 351h2v1h-2zM468 352h2v1h-2zM467 353h2v1h-2zM466 354h2v1h-2zM465 355h2v2h-2zM464 357h2v1h-2zM463 358h2v1h-2zM462 359h2v1h-2zM461 360h2v1h-2zM460 361h2v1h-2zM459 362h2v1h-2zM458 363h2v1h-2zM457 364h2v1h-2zM456 365h2v1h-2zM455 366h2v1h-2zM454 367h2v1h-2zM453 368h2v2h-2zM452 370h2v1h-2zM451 371h2v1h-2zM450 372h2v1h-2zM449 373h2v1h-2zM448 374h2v1h-2zM447 375h2v1h-2zM446 376h2v1h-2zM445 377h2v1h-2zM444 378h2v1h-2zM443 379h2v1h-2zM442 380h2v1h-2zM441 381h2v1h-2zM440 382h2v1h-2zM439 383h2v1h-2zM438 384h2v1h-2zM437 385h2v1h-2zM436 386h2v1h-2zM435 387h2v1h-2zM434 388h2v1h-2zM433 389h2v1h-2zM432 390h2v1h-2zM431 391h2v1h-2zM430 392h1v1h-1zM429 393h2v1h-2zM428 394h2v1h-2zM427 395h2v1h-2zM426 396h2v1h-2zM425 397h2v1h-2zM424 398h2v1h-2zM423 399h2v1h-2zM421 400h3v1h-3zM420 401h3v1h-3zM419 402h2v1h-2zM418 403h2v1h-2zM417 404h2v1h-2zM416 405h2v1h-2zM415 406h2v1h-2zM414 407h2v1h-2zM413 408h2v1h-2zM412 409h2v1h-2zM411 410h2v1h-2zM410 411h2v1h-2zM409 412h2v1h-2zM408 413h2v1h-2zM407 414h2v1h-2zM406 415h2v1h-2zM405 416h2v1h-2zM404 417h2v1h-2zM402 418h3v1h-3zM401 419h3v1h-3zM400 420h2v1h-2zM399 421h2v1h-2zM398 422h2v1h-2zM397 423h2v1h-2zM396 424h2v1h-2zM395 425h2v1h-2zM394 426h2v1h-2zM392 427h3v1h-3zM391 428h3v1h-3zM390 429h2v1h-2zM389 430h2v1h-2zM388 431h2v1h-2zM387 432h2v1h-2zM386 433h2v1h-2zM384 434h3v1h-3zM383 435h3v1h-3zM382 436h2v1h-2zM381 437h2v1h-2zM380 438h2v1h-2zM379 439h2v1h-2zM377 440h3v1h-3zM376 441h3v1h-3zM375 442h2v1h-2zM374 443h2v1h-2zM373 444h2v1h-2zM371 445h3v1h-3zM370 446h3v1h-3zM369 447h2v1h-2zM368 448h2v1h-2zM367 449h2v1h-2zM365 450h3v1h-3zM364 451h3v1h-3zM363 452h2v1h-2zM362 453h2v1h-2zM360 454h3v1h-3zM359 455h3v1h-3zM358 456h2v1h-2zM357 457h2v1h-2zM355 458h3v1h-3zM354 459h3v1h-3zM353 460h2v1h-2zM351 461h3v1h-3zM350 462h3v1h-3zM349 463h2v1h-2zM348 464h2v1h-2zM346 465h3v1h-3zM345 466h3v1h-3zM344 467h2v1h-2zM342 468h3v1h-3zM341 469h3v1h-3zM340 470h2v1h-2zM338 471h3v1h-3zM337 472h3v1h-3zM335 473h3v1h-3zM334 474h3v1h-3zM333 475h2v1h-2zM331 476h3v1h-3zM330 477h3v1h-3zM328 478h3v1h-3zM327 479h3v1h-3zM326 480h2v1h-2zM324 481h3v1h-3zM323 482h3v1h-3zM321 483h3v1h-3zM320 484h3v1h-3zM318 485h3v1h-3zM317 486h3v1h-3zM315 487h3v1h-3zM314 488h3v1h-3zM312 489h3v1h-3zM311 490h3v1h-3zM309 491h3v1h-3zM308 492h3v1h-3zM306 493h3v1h-3zM304 494h4v1h-4zM303 495h3v1h-3zM301 496h3v1h-3zM300 497h3v1h-3zM298 498h3v1h-3zM296 499h4v1h-4zM296 500h2v1h-2zM295 501h1v1h-1zM291 502h2v1h-2zM290 503h2v1h-2zM288 504h3v1h-3zM286 505h4v1h-4zM285 506h3v1h-3zM283 507h3v1h-3zM281 508h4v1h-4zM279 509h4v1h-4zM278 510h3v1h-3zM276 511h3v1h-3zM274 512h4v1h-4zM272 513h4v1h-4zM270 514h4v1h-4zM268 515h4v1h-4zM266 516h4v1h-4zM265 517h3v1h-3zM263 518h3v1h-3zM261 519h4v1h-4zM259 520h4v1h-4zM257 521h4v1h-4zM255 522h4v1h-4zM253 523h4v1h-4zM250 524h5v1h-5zM248 525h5v1h-5zM246 526h4v1h-4zM244 527h4v1h-4zM242 528h4v1h-4zM240 529h4v1h-4zM237 530h5v1h-5zM235 531h5v1h-5zM233 532h4v1h-4zM230 533h5v1h-5zM228 534h5v1h-5zM226 535h4v1h-4zM223 536h5v1h-5zM221 537h5v1h-5zM218 538h5v1h-5zM215 539h6v1h-6zM213 540h5v1h-5zM210 541h5v1h-5zM207 542h6v1h-6zM204 543h6v1h-6zM201 544h6v1h-6zM198 545h6v1h-6zM195 546h6v1h-6zM192 547h6v1h-6zM189 548h6v1h-6zM185 549h7v1h-7zM182 550h7v1h-7zM178 551h7v1h-7zM174 552h8v1h-8zM170 553h8v1h-8zM166 554h8v1h-8zM162 555h8v1h-8zM157 556h9v1h-9zM152 557h10v1h-10zM147 558h10v1h-10zM141 559h11v1h-11zM134 560h13v1h-13zM126 561h15v1h-15zM117 562h17v1h-17zM102 563h17v1h-17z"/>
<path fill="#00ffff" d="M368 40h2v11h-2zM367 51h2v14h-2zM366 65h2v14h-2zM365 79h2v13h-2zM364 92h2v13h-2zM363 105h2v13h-2zM362 118h2v13h-2zM361 131h2v12h-2zM360 143h2v11h-2zM359 154h2v12h-2zM358 166h2v11h-2zM357 177h2v11h-2zM356 188h2v10h-2zM355 198h2v10h-2zM354 208h2v10h-2zM353 218h2v10h-2zM352 228h2v9h-2zM351 237h2v9h-2zM350 246h2v9h-2zM349 255h2v9h-2zM348 264h2v8h-2zM347 272h2v8h-2zM346 280h2v8h-2zM345 288h2v8h-2zM344 296h2v7h-2zM343 303h2v8h-2zM342 311h2v7h-2zM341 318h2v7h-2zM340 325h2v6h-2zM339 331h2v7h-2zM338 338h2v6h-2zM337 344h2v6h-2zM336 350h2v6h-2zM335 356h2v6h-2zM334 362h2v6h-2zM333 368h2v5h-2zM332 373h2v6h-2zM331 379h2v5h-2zM330 384h2v5h-2zM329 389h2v5h-2zM328 394h2v4h-2zM327 398h2v5h-2zM326 403h2v5h-2zM325 408h2v4h-2zM324 412h2v4h-2zM323 416h2v4h-2zM322 420h2v4h-2zM321 424h2v4h-2zM320 428h2v4h-2zM319 432h2v4h-2zM318 436h2v3h-2zM317 439h2v4h-2zM316 443h2v3h-2zM315 446h2v4h-2zM314 450h2v3h-2zM313 453h2v3h-2zM312 456h2v3h-2zM311 459h2v3h-2zM310 462h2v3h-2zM309 465h2v3h-2zM308 468h2v2h-2zM307 470h2v3h-2zM306 473h2v2h-2zM305 475h2v3h-2zM304 478h2v2h-2zM303 480h2v3h-2zM302 483h2v2h-2zM301 485h2v2h-2zM300 487h2v2h-2zM299 489h2v3h-2zM298 492h2v2h-2zM297 494h2v2h-2zM296 496h2v1h-2zM295 497h2v2h-2zM294 499h2v2h-2zM293 501h2v2h-2zM292 503h2v2h-2zM291 505h2v1h-2zM290 506h2v2h-2zM289 508h2v2h-2zM288 510h2v1h-2zM287 511h2v2h-2zM286 513h2v1h-2zM285 514h2v2h-2zM284 516h2v1h-2zM283 517h2v1h-2zM282 518h2v2h-2zM281 520h2v1h-2zM280 521h2v1h-2zM279 522h2v1h-2zM278 523h2v1h-2zM277 524h2v2h-2zM276 526h2v1h-2zM275 527h2v1h-2zM274 528h2v1h-2zM273 529h2v1h-2zM272 530h2v1h-2zM271 531h2v1h-2zM270 532h2v1h-2zM269 533h2v1h-2zM267 534h3v1h-3zM266 535h3v1h-3zM265 536h2v1h-2zM264 537h2v1h-2zM262 538h3v1h-3zM261 539h3v1h-3zM259 540h3v1h-3zM258 541h3v1h-3zM256 542h3v1h-3zM254 543h4v1h-4zM253 544h3v1h-3zM251 545h3v1h-3zM249 546h4v1h-4zM247 547h4v1h-4zM244 548h5v1h-5zM242 549h5v1h-5zM240 550h4v1h-4zM237 551h5v1h-5zM234 552h6v1h-6zM231 553h6v1h-6zM227 554h7v1h-7zM223 555h8v1h-8zM219 556h8v1h-8zM213 557h10v1h-10zM207 558h12v1h-12zM200 559h13v1h-13zM191 560h16v1h-16zM179 561h21v1h-21zM161 562h30v1h-30zM119 563h60v1h-60zM85 564h76v1h-76zM85 565h34v1h-34z"/>
</g>
<g fill="#fff" shape-rendering="crispEdges"><rect x="85" y="39" width="739" height="1"/><rect x="85" y="565" width="739" height="1"/><rect x="85" y="39" width="1" height="527"/><rect x="823" y="39" width="1" height="527"/><rect x="81" y="565" width="4" height="1"/><rect x="83" y="547" width="2" height="1"/><rect x="83" y="530" width="2" height="1"/><rect x="83" y="512" width="2" height="1"/><rect x="83" y="495" width="2" height="1"/><rect x="81" y="477" width="4" height="1"/><rect x="83" y="460" width="2" height="1"/><rect x="83" y="442" width="2" height="1"/><rect x="83" y="424" width="2" height="1"/><rect x="83" y="407" width="2" height="1"/><rect x="81" y="389" width="4" height="1"/><rect x="83" y="372" width="2" height="1"/><rect x="83" y="354" width="2" height="1"/><rect x="83" y="337" width="2" height="1"/><rect x="83" y="319" width="2" height="1"/><rect x="81" y="302" width="4" height="1"/><rect x="83" y="284" width="2" height="1"/><rect x="83" y="267" width="2" height="1"/><rect x="83" y="249" width="2" height="1"/><rect x="83" y="232" width="2" height="1"/><rect x="81" y="214" width="4" height="1"/><rect x="83" y="197" width="2" height="1"/><rect x="83" y="179" width="2" height="1"/><rect x="83" y="162" width="2" height="1"/><rect x="83" y="144" width="2" height="1"/><rect x="81" y="127" width="4" height="1"/><rect x="83" y="109" width="2" height="1"/><rect x="83" y="92" width="2" height="1"/><rect x="83" y="74" width="2" height="1"/><rect x="83" y="57" width="2" height="1"/><rect x="81" y="39" width="4" height="1"/><rect x="85" y="566" width="1" height="3"/><rect x="110" y="566" width="1" height="1"/><rect x="134" y="566" width="1" height="1"/><rect x="159" y="566" width="1" height="1"/><rect x="183" y="566" width="1" height="1"/><rect x="208" y="566" width="1" height="3"/><rect x="233" y="566" width="1" height="1"/><rect x="257" y="566" width="1" height="1"/><rect x="282" y="566" width="1" height="1"/><rect x="306" y="566" width="1" height="1"/><rect x="331" y="566" width="1" height="3"/><rect x="356" y="566" width="1" height="1"/><rect x="380" y="566" width="1" height="1"/><rect x="405" y="566" width="1" height="1"/><rect x="429" y="566" width="1" height="1"/><rect x="454" y="566" width="1" height="3"/><rect x="479" y="566" width="1" height="1"/><rect x="503" y="566" width="1" height="1"/><rect x="528" y="566" width="1" height="1"/><rect x="552" y="566" width="1" height="1"/><rect x="577" y="566" width="1" height="3"/><rect x="602" y="566" width="1" height="1"/><rect x="626" y="566" width="1" height="1"/><rect x="651" y="566" width="1" height="1"/><rect x="675" y="566" width="1" height="1"/><rect x="700" y="566" width="1" height="3"/><rect x="725" y="566" width="1" height="1"/><rect x="749" y="566" width="1" height="1"/><rect x="774" y="566" width="1" height="1"/><rect x="798" y="566" width="1" height="1"/><rect x="823" y="566" width="1" height="3"/></g>
<g fill="#fff" shape-rendering="crispEdges"><rect x="72" y="567" width="1" height="8"/><rect x="77" y="567" width="1" height="8"/><rect x="73" y="566" width="4" height="1"/><rect x="73" y="575" width="4" height="1"/><rect x="58" y="476" width="1" height="3"/><rect x="59" y="473" width="1" height="3"/><rect x="63" y="478" width="1" height="4"/><rect x="60" y="473" width="4" height="1"/><rect x="59" y="477" width="4" height="1"/><rect x="58" y="481" width="1" height="1"/><rect x="59" y="482" width="4" height="1"/><rect x="65" y="474" width="1" height="8"/><rect x="70" y="474" width="1" height="8"/><rect x="66" y="473" width="4" height="1"/><rect x="66" y="482" width="4" height="1"/><rect x="72" y="474" width="1" height="8"/><rect x="77" y="474" width="1" height="8"/><rect x="73" y="473" width="4" height="1"/><rect x="73" y="482" width="4" height="1"/><rect x="54" y="385" width="1" height="10"/><rect x="53" y="386" width="1" height="1"/><rect x="52" y="387" width="1" height="1"/><rect x="58" y="386" width="1" height="8"/><rect x="63" y="386" width="1" height="8"/><rect x="59" y="385" width="4" height="1"/><rect x="59" y="394" width="4" height="1"/><rect x="65" y="386" width="1" height="8"/><rect x="70" y="386" width="1" height="8"/><rect x="66" y="385" width="4" height="1"/><rect x="66" y="394" width="4" height="1"/><rect x="72" y="386" width="1" height="8"/><rect x="77" y="386" width="1" height="8"/><rect x="73" y="385" width="4" height="1"/><rect x="73" y="394" width="4" height="1"/><rect x="54" y="298" width="1" height="10"/><rect x="53" y="299" width="1" height="1"/><rect x="52" y="300" width="1" height="1"/><rect x="58" y="301" width="1" height="3"/><rect x="59" y="298" width="1" height="3"/><rect x="63" y="303" width="1" height="4"/><rect x="60" y="298" width="4" height="1"/><rect x="59" y="302" width="4" height="1"/><rect x="58" y="306" width="1" height="1"/><rect x="59" y="307" width="4" height="1"/><rect x="65" y="299" width="1" height="8"/><rect x="70" y="299" width="1" height="8"/><rect x="66" y="298" width="4" height="1"/><rect x="66" y="307" width="4" height="1"/><rect x="72" y="299" width="1" height="8"/><rect x="77" y="299" width="1" height="8"/><rect x="73" y="298" width="4" height="1"/><rect x="73" y="307" width="4" height="1"/><rect x="56" y="211" width="1" height="4"/><rect x="52" y="210" width="4" height="1"/><rect x="51" y="211" width="1" height="1"/><rect x="55" y="215" width="1" height="1"/><rect x="54" y="216" width="1" height="1"/><rect x="53" y="217" width="1" height="1"/><rect x="52" y="218" width="1" height="1"/><rect x="51" y="219" width="6" height="1"/><rect x="58" y="211" width="1" height="8"/><rect x="63" y="211" width="1" height="8"/><rect x="59" y="210" width="4" height="1"/><rect x="59" y="219" width="4" height="1"/><rect x="65" y="211" width="1" height="8"/><rect x="70" y="211" width="1" height="8"/><rect x="66" y="210" width="4" height="1"/><rect x="66" y="219" width="4" height="1"/><rect x="72" y="211" width="1" height="8"/><rect x="77" y="211" width="1" height="8"/><rect x="73" y="210" width="4" height="1"/><rect x="73" y="219" width="4" height="1"/><rect x="56" y="124" width="1" height="4"/><rect x="52" y="123" width="4" height="1"/><rect x="51" y="124" width="1" height="1"/><rect x="55" y="128" width="1" height="1"/><rect x="54" y="129" width="1" height="1"/><rect x="53" y="130" width="1" height="1"/><rect x="52" y="131" width="1" height="1"/><rect x="51" y="132" width="6" height="1"/><rect x="58" y="126" width="1" height="3"/><rect x="59" y="123" width="1" height="3"/><rect x="63" y="128" width="1" height="4"/><rect x="60" y="123" width="4" height="1"/><rect x="59" y="127" width="4" height="1"/><rect x="58" y="131" width="1" height="1"/><rect x="59" y="132" width="4" height="1"/><rect x="65" y="124" width="1" height="8"/><rect x="70" y="124" width="1" height="8"/><rect x="66" y="123" width="4" height="1"/><rect x="66" y="132" width="4" height="1"/><rect x="72" y="124" width="1" height="8"/><rect x="77" y="124" width="1" height="8"/><rect x="73" y="123" width="4" height="1"/><rect x="73" y="132" width="4" height="1"/><rect x="56" y="36" width="1" height="3"/><rect x="56" y="40" width="1" height="4"/><rect x="52" y="35" width="4" height="1"/><rect x="51" y="36" width="1" height="1"/><rect x="53" y="39" width="3" height="1"/><rect x="51" y="43" width="1" height="1"/><rect x="52" y="44" width="4" height="1"/><rect x="58" y="36" width="1" height="8"/><rect x="63" y="36" width="1" height="8"/><rect x="59" y="35" width="4" height="1"/><rect x="59" y="44" width="4" height="1"/><rect x="65" y="36" width="1" height="8"/><rect x="70" y="36" width="1" height="8"/><rect x="66" y="35" width="4" height="1"/><rect x="66" y="44" width="4" height="1"/><rect x="72" y="36" width="1" height="8"/><rect x="77" y="36" width="1" height="8"/><rect x="73" y="35" width="4" height="1"/><rect x="73" y="44" width="4" height="1"/><rect x="85" y="572" width="1" height="8"/><rect x="90" y="572" width="1" height="8"/><rect x="86" y="571" width="4" height="1"/><rect x="86" y="580" width="4" height="1"/><rect x="204" y="574" width="1" height="3"/><rect x="205" y="571" width="1" height="3"/><rect x="209" y="576" width="1" height="4"/><rect x="206" y="571" width="4" height="1"/><rect x="205" y="575" width="4" height="1"/><rect x="204" y="579" width="1" height="1"/><rect x="205" y="580" width="4" height="1"/><rect x="327" y="571" width="1" height="10"/><rect x="326" y="572" width="1" height="1"/><rect x="325" y="573" width="1" height="1"/><rect x="331" y="572" width="1" height="8"/><rect x="336" y="572" width="1" height="8"/><rect x="332" y="571" width="4" height="1"/><rect x="332" y="580" width="4" height="1"/><rect x="450" y="571" width="1" height="10"/><rect x="449" y="572" width="1" height="1"/><rect x="448" y="573" width="1" height="1"/><rect x="454" y="574" width="1" height="3"/><rect x="455" y="571" width="1" height="3"/><rect x="459" y="576" width="1" height="4"/><rect x="456" y="571" width="4" height="1"/><rect x="455" y="575" width="4" height="1"/><rect x="454" y="579" width="1" height="1"/><rect x="455" y="580" width="4" height="1"/><rect x="575" y="572" width="1" height="4"/><rect x="571" y="571" width="4" height="1"/><rect x="570" y="572" width="1" height="1"/><rect x="574" y="576" width="1" height="1"/><rect x="573" y="577" width="1" height="1"/><rect x="572" y="578" width="1" height="1"/><rect x="571" y="579" width="1" height="1"/><rect x="570" y="580" width="6" height="1"/><rect x="577" y="572" width="1" height="8"/><rect x="582" y="572" width="1" height="8"/><rect x="578" y="571" width="4" height="1"/><rect x="578" y="580" width="4" height="1"/><rect x="698" y="572" width="1" height="4"/><rect x="694" y="571" width="4" height="1"/><rect x="693" y="572" width="1" height="1"/><rect x="697" y="576" width="1" height="1"/><rect x="696" y="577" width="1" height="1"/><rect x="695" y="578" width="1" height="1"/><rect x="694" y="579" width="1" height="1"/><rect x="693" y="580" width="6" height="1"/><rect x="700" y="574" width="1" height="3"/><rect x="701" y="571" width="1" height="3"/><rect x="705" y="576" width="1" height="4"/><rect x="702" y="571" width="4" height="1"/><rect x="701" y="575" width="4" height="1"/><rect x="700" y="579" width="1" height="1"/><rect x="701" y="580" width="4" height="1"/><rect x="821" y="572" width="1" height="3"/><rect x="821" y="576" width="1" height="4"/><rect x="817" y="571" width="4" height="1"/><rect x="816" y="572" width="1" height="1"/><rect x="818" y="575" width="3" height="1"/><rect x="816" y="579" width="1" height="1"/><rect x="817" y="580" width="4" height="1"/><rect x="823" y="572" width="1" height="8"/><rect x="828" y="572" width="1" height="8"/><rect x="824" y="571" width="4" height="1"/><rect x="824" y="580" width="4" height="1"/><rect x="22" y="252" width="1" height="10"/><rect x="19" y="252" width="3" height="1"/><rect x="23" y="252" width="3" height="1"/><rect x="27" y="255" width="1" height="7"/><rect x="29" y="252" width="1" height="1"/><rect x="28" y="253" width="1" height="1"/><rect x="28" y="254" width="1" height="1"/><rect x="28" y="262" width="1" height="1"/><rect x="28" y="263" width="1" height="1"/><rect x="29" y="264" width="1" height="1"/><rect x="31" y="255" width="1" height="7"/><rect x="35" y="256" width="1" height="6"/><rect x="33" y="255" width="2" height="1"/><rect x="32" y="256" width="1" height="1"/><rect x="39" y="255" width="1" height="7"/><rect x="37" y="252" width="1" height="1"/><rect x="38" y="253" width="1" height="1"/><rect x="38" y="254" width="1" height="1"/><rect x="38" y="262" width="1" height="1"/><rect x="38" y="263" width="1" height="1"/><rect x="37" y="264" width="1" height="1"/><rect x="451" y="592" width="1" height="7"/><rect x="455" y="593" width="1" height="6"/><rect x="453" y="592" width="2" height="1"/><rect x="452" y="593" width="1" height="1"/></g>
<g filter="url(#th)">
<text fill="#00ffff" stroke="#00ffff" stroke-width="0.5" font-size="19.6" font-style="italic" x="331" y="113">2</text>
<text fill="#00ffff" stroke="#00ffff" stroke-width="0.7" font-size="15" font-style="italic" x="344.1" y="100.75">n</text>
<path fill="#ffff00" d="M475 87h2v11h-2v-8l-2.4 2.4l-1.2-1.4z"/>
<rect fill="#ffff00" x="470" y="102" width="12" height="2" shape-rendering="crispEdges"/>
<text fill="#ffff00" stroke="#ffff00" stroke-width="0.5" font-size="15.3" x="471.5" y="120">2</text>
<text fill="#ffff00" stroke="#ffff00" stroke-width="0.3" font-size="19.2" font-style="italic" x="486.8" y="108">n</text>
<text fill="#ffff00" stroke="#ffff00" stroke-width="0.55" font-size="15" font-style="italic" x="499.9" y="99">3</text>
<text fill="#ff00ff" stroke="#ff00ff" stroke-width="0.45" font-size="19.6" font-style="italic" x="609.2" y="107">5</text>
<text fill="#ff00ff" stroke="#ff00ff" stroke-width="0.3" font-size="19.2" font-style="italic" x="624.7" y="107">n</text>
<text fill="#ff00ff" stroke="#ff00ff" stroke-width="0.5" font-size="15" font-style="italic" x="638" y="96">2</text>
<path fill="#0000ff" d="M714.2 72h2.2l-3 14h-2.2l2.2-10.6l-3.6 2.4l-0.8-1.6z"/>
<text fill="#0000ff" stroke="#0000ff" stroke-width="0.45" font-size="19.6" font-style="italic" x="717.3" y="86">00n</text>
<text fill="#00ff00" stroke="#00ff00" stroke-width="0.45" font-size="19.6" font-style="italic" x="693" y="196">400</text>
<path fill="none" stroke="#00ff00" stroke-width="1.7" stroke-linejoin="miter" d="M729.3 190.3 L730.8 189.3 L734.6 196.8 L743.6 178 L758 178"/>
<text fill="#00ff00" stroke="#00ff00" stroke-width="0.3" font-size="19.2" font-style="italic" x="743.9" y="195">n</text>
<text fill="#ff0000" stroke="#ff0000" stroke-width="0.45" font-size="19.6" font-style="italic" x="686.3" y="323">400 log n</text>
</g>
</svg></body></html>
